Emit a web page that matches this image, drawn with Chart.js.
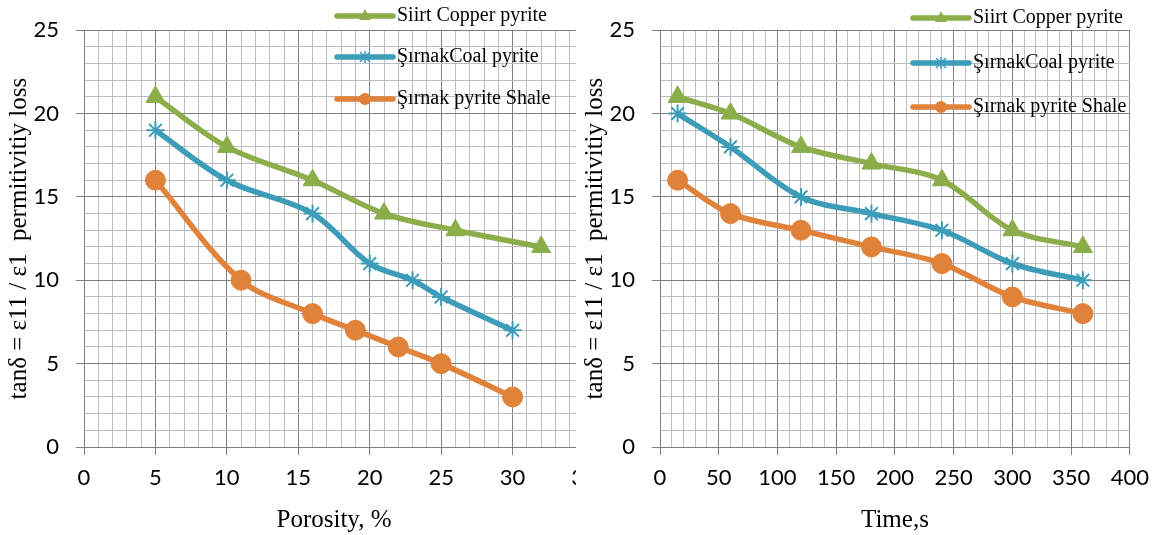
<!DOCTYPE html>
<html>
<head>
<meta charset="utf-8">
<script src="https://cdn.jsdelivr.net/npm/chart.js"></script>
<style>
  body { margin: 0; background: #fff; }
  #left { position: absolute; left: 0; top: 0; width: 620px; height: 535px; }
  #right { position: absolute; left: 576px; top: 0; width: 583px; height: 535px; background: #fff; z-index: 1; }
</style>
</head>
<body>
<div id="left"><canvas id="porosityChart"></canvas></div>
<div id="right"><canvas id="timeChart"></canvas></div>
<script>
// porosity chart
const copperPorosity = [5, 10, 16, 21, 26, 32];
const copperByPorosity = [21, 18, 16, 14, 13, 12];
const coalPorosity = [5, 10, 16, 20, 23, 25, 30];
const coalByPorosity = [19, 16, 14, 11, 10, 9, 7];
const shalePorosity = [5, 11, 16, 19, 22, 25, 30];
const shaleByPorosity = [16, 10, 8, 7, 6, 5, 3];

// time chart
const times = [15, 60, 120, 180, 240, 300, 360];
const copperByTime = [21, 20, 18, 17, 16, 13, 12];
const coalByTime = [20, 18, 15, 14, 13, 11, 10];
const shaleByTime = [16, 14, 13, 12, 11, 9, 8];

const seriesNames = ['Siirt Copper pyrite', 'ŞırnakCoal pyrite', 'Şırnak pyrite Shale'];
const yTitle = 'tanδ = ε11 / ε1  permitivitiy loss';

const GREEN = '#8BAD4A';
const BLUE = '#3D9CB8';
const ORANGE = '#E0823A';
const MAJOR = '#808080';
const MINOR = '#bdbdbd';

function points(xs, ys) {
    return xs.map((x, i) => ({x: x, y: ys[i]}));
}

function series(xs, ys, i) {
    const colors = [GREEN, BLUE, ORANGE];
    const styles = ['triangle', 'star', 'circle'];
    const radius = [11, 9, 10];
    return {
        label: seriesNames[i],
        data: points(xs, ys),
        borderColor: colors[i],
        backgroundColor: colors[i],
        borderWidth: 5.5,
        tension: 0.33,
        pointStyle: styles[i],
        pointRadius: radius[i],
        pointHoverRadius: radius[i],
        pointBorderWidth: i == 1 ? 2 : 1,
        pointBorderColor: colors[i],
        pointBackgroundColor: colors[i]
    };
}

// legend drawn inside the plot, like the excel one
const sideLegend = {
    id: 'sideLegend',
    afterDraw(chart, args, opts) {
        const ctx = chart.ctx;
        ctx.save();
        chart.data.datasets.forEach((ds, i) => {
            const y = opts.rows[i];
            const x0 = opts.x, x1 = opts.x + 56, cx = (x0 + x1) / 2;
            ctx.strokeStyle = ds.borderColor;
            ctx.fillStyle = ds.borderColor;
            ctx.lineWidth = 5.5;
            ctx.lineCap = 'round';
            ctx.beginPath();
            ctx.moveTo(x0, y);
            ctx.lineTo(x1, y);
            ctx.stroke();
            ctx.lineCap = 'butt';
            if (ds.pointStyle == 'triangle') {
                ctx.beginPath();
                ctx.moveTo(cx, y - 7);
                ctx.lineTo(cx + 6, y + 4);
                ctx.lineTo(cx - 6, y + 4);
                ctx.closePath();
                ctx.fill();
            } else if (ds.pointStyle == 'circle') {
                ctx.beginPath();
                ctx.arc(cx, y, 6, 0, Math.PI * 2);
                ctx.fill();
            } else {
                ctx.lineWidth = 1.5;
                ctx.beginPath();
                ctx.moveTo(cx - 5, y - 5); ctx.lineTo(cx + 5, y + 5);
                ctx.moveTo(cx + 5, y - 5); ctx.lineTo(cx - 5, y + 5);
                ctx.moveTo(cx, y - 6); ctx.lineTo(cx, y + 6);
                ctx.stroke();
            }
            ctx.fillStyle = '#000';
            ctx.font = '20px "Liberation Serif", "Times New Roman", serif';
            ctx.textBaseline = 'middle';
            ctx.textAlign = 'left';
            ctx.fillText(ds.label, x1 + 4, y);
        });
        ctx.restore();
    }
};

const tickFont = {family: 'Lato', size: 22};
const titleFont = {family: '"Liberation Serif", "Times New Roman", serif', size: 25};

function options(xMax, xStep, xMajor, xTitle, padRight, legendRows) {
    return {
        responsive: true,
        maintainAspectRatio: false,
        animation: false,
        layout: {
            padding: {left: 0, right: padRight, top: 23, bottom: 0}
        },
        plugins: {
            legend: {display: false},
            tooltip: {enabled: false},
            sideLegend: {x: 337, rows: legendRows}
        },
        scales: {
            x: {
                type: 'linear',
                min: 0,
                max: xMax,
                afterFit: s => { s.height = 88; },
                ticks: {
                    stepSize: xStep,
                    autoSkip: false,
                    maxRotation: 0,
                    color: '#000',
                    font: tickFont,
                    padding: 10,
                    callback: v => v % xMajor === 0 ? v : ''
                },
                grid: {
                    color: c => c.tick && c.tick.value % xMajor === 0 ? MAJOR : MINOR,
                    tickColor: c => c.tick && c.tick.value % xMajor === 0 ? MAJOR : 'rgba(0,0,0,0)',
                    tickLength: 8,
                    lineWidth: 1
                },
                border: {color: MAJOR},
                title: {
                    display: true,
                    text: xTitle,
                    color: '#000',
                    font: titleFont,
                    padding: {top: 0, bottom: 0}
                }
            },
            y: {
                min: 0,
                max: 25,
                afterFit: s => { s.width = 84; },
                ticks: {
                    stepSize: 1,
                    autoSkip: false,
                    color: '#000',
                    font: tickFont,
                    padding: 17,
                    callback: v => v % 5 === 0 ? v : ''
                },
                grid: {
                    color: c => c.tick && c.tick.value % 5 === 0 ? MAJOR : MINOR,
                    tickColor: c => c.tick && c.tick.value % 5 === 0 ? MAJOR : 'rgba(0,0,0,0)',
                    tickLength: 8,
                    lineWidth: 1
                },
                border: {color: MAJOR},
                title: {
                    display: true,
                    text: yTitle,
                    color: '#000',
                    font: titleFont,
                    padding: {top: 4, bottom: 0}
                }
            }
        }
    };
}

new Chart(document.getElementById('porosityChart'), {
    type: 'line',
    data: {
        datasets: [
            series(copperPorosity, copperByPorosity, 0),
            series(coalPorosity, coalByPorosity, 1),
            series(shalePorosity, shaleByPorosity, 2)
        ]
    },
    options: options(35, 1, 5, 'Porosity, %', 36, [16, 57, 99]),
    plugins: [sideLegend]
});

new Chart(document.getElementById('timeChart'), {
    type: 'line',
    data: {
        datasets: [
            series(times, copperByTime, 0),
            series(times, coalByTime, 1),
            series(times, shaleByTime, 2)
        ]
    },
    options: options(400, 10, 50, 'Time,s', 22, [18, 63, 107]),
    plugins: [sideLegend]
});
</script>
</body>
</html>
